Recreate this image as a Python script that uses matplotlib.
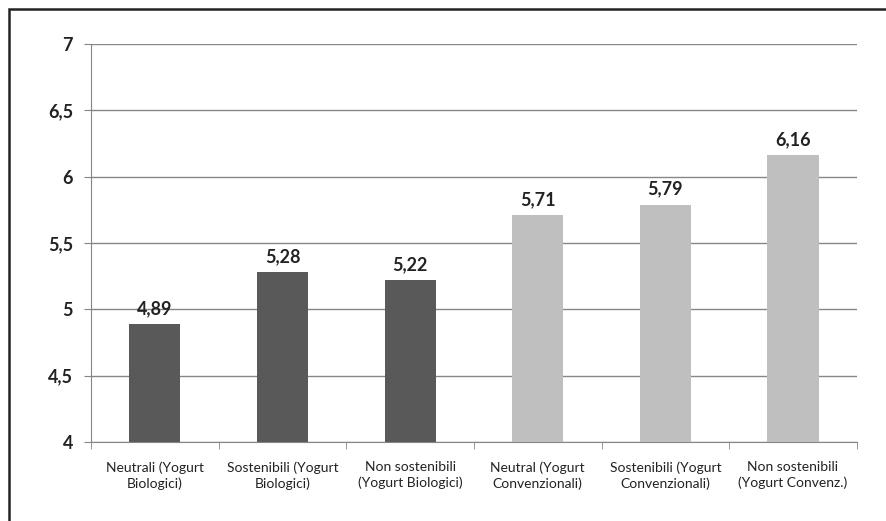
import matplotlib.pyplot as plt
from matplotlib.patches import Rectangle

categorie = ["Neutrali (Yogurt\nBiologici)", "Sostenibili (Yogurt\nBiologici)",
             "Non sostenibili\n(Yogurt Biologici)", "Neutral (Yogurt\nConvenzionali)",
             "Sostenibili (Yogurt\nConvenzionali)", "Non sostenibili\n(Yogurt Convenz.)"]
valori = [4.89, 5.28, 5.22, 5.71, 5.79, 6.16]
colori = ["#595959"] * 3 + ["#bfbfbf"] * 3
yticks = [4, 4.5, 5, 5.5, 6, 6.5, 7]

plt.rcParams['font.family'] = ['Lato', 'DejaVu Sans']

fig = plt.figure(figsize=(8.87, 5.21), dpi=100, facecolor="white")
ax = fig.add_axes([0.1026, 0.1516, 0.8634, 0.7639])

x = range(len(valori))
bars = ax.bar(x, [v - 4 for v in valori], bottom=4, width=0.4, color=colori, zorder=3)

for xi, v in zip(x, valori):
    ax.annotate(f"{v:.2f}".replace(".", ","), (xi, v), xytext=(0, 5),
                textcoords="offset points", ha="center", va="bottom",
                fontsize=13, fontweight="bold", color="#222222")

ax.set_ylim(4, 7)
ax.set_xlim(-0.5, 5.5)
ax.set_yticks(yticks)
ax.set_yticklabels([f"{t:g}".replace(".", ",") for t in yticks], fontsize=13,
                   fontweight="bold", color="#222222")
ax.yaxis.grid(True, color="#868686", linewidth=1, zorder=0)

ax.set_xticks(x)
ax.set_xticklabels(categorie, fontsize=10, color="#222222", linespacing=1.3)
ax.tick_params(axis="x", length=0, pad=14)
ax.set_xticks([i - 0.5 for i in range(len(valori) + 1)], minor=True)
ax.tick_params(axis="x", which="minor", length=5, color="#868686")
ax.tick_params(axis="y", length=5, color="#868686", pad=8)

for s in ["top", "right"]:
    ax.spines[s].set_visible(False)
ax.spines["left"].set_color("#868686")
ax.spines["bottom"].set_color("#868686")

# cornice del grafico
fig.patches.append(Rectangle((9 / 887, -0.1), 1.2, 1.1 - 9 / 521, transform=fig.transFigure,
                             fill=False, edgecolor="#222222", linewidth=1.8))

fig.savefig("out.png", dpi=100)
